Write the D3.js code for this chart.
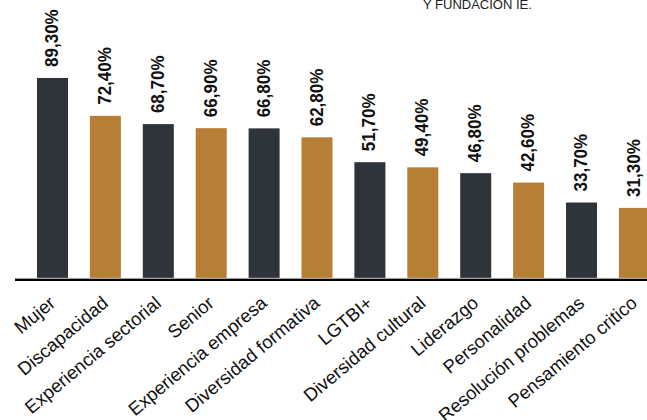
<!DOCTYPE html>
<html>
<head>
<meta charset="utf-8">
<script src="https://cdn.jsdelivr.net/npm/d3@7"></script>
<style>
  html, body { margin: 0; padding: 0; background: #fff; overflow: hidden; }
  svg { display: block; }
</style>
</head>
<body>
<svg id="chart" width="647" height="420"></svg>
<script>
const categories = ["Mujer", "Discapacidad", "Experiencia sectorial", "Senior", "Experiencia empresa", "Diversidad formativa", "LGTBI+", "Diversidad cultural", "Liderazgo", "Personalidad", "Resolución problemas", "Pensamiento critico"];
const values = [89.3, 72.4, 68.7, 66.9, 66.8, 62.8, 51.7, 49.4, 46.8, 42.6, 33.7, 31.3];
const valueLabels = ["89,30%", "72,40%", "68,70%", "66,90%", "66,80%", "62,80%", "51,70%", "49,40%", "46,80%", "42,60%", "33,70%", "31,30%"];
const sourceNote = "Y FUNDACION IE.";

const colors = ["#2f333a", "#b77f35"];
const data = categories.map((c, i) => ({ cat: c, value: values[i], label: valueLabels[i] }));

const svg = d3.select("#chart");
const x = d3.scaleBand().domain(categories).range([26.05, 660.85]).paddingInner(0.414).paddingOuter(0.207);
const y = d3.scaleLinear().domain([0, 100]).range([278, 54]);

// source note (cut at top, as in the reference)
svg.append("text")
  .attr("x", 423).attr("y", 8.5)
  .attr("font-family", "'Liberation Sans', Arial, sans-serif")
  .attr("font-size", 13)
  .attr("fill", "#222")
  .text(sourceNote);

// bars
svg.append("g").selectAll("rect").data(data).join("rect")
  .attr("x", d => x(d.cat))
  .attr("width", x.bandwidth())
  .attr("y", d => y(d.value))
  .attr("height", d => y(0) - y(d.value))
  .attr("fill", (d, i) => colors[i % 2]);

// value labels (condensed bold)
svg.append("g").selectAll("text").data(data).join("text")
  .attr("transform", d => `translate(${x(d.cat) + x.bandwidth() / 2 + 5.5},${y(d.value) - 11}) rotate(-90) scale(0.92,1)`)
  .attr("text-anchor", "start")
  .attr("font-family", "'Liberation Sans', Arial, sans-serif")
  .attr("font-weight", "bold")
  .attr("font-size", 18.5)
  .attr("fill", "#111")
  .text(d => d.label);

// baseline lines
svg.append("line").attr("x1", 15).attr("x2", 647).attr("y1", 278.3).attr("y2", 278.3)
  .attr("stroke", "#ccc").attr("stroke-width", 1);
svg.append("line").attr("x1", 15).attr("x2", 647).attr("y1", 279.9).attr("y2", 279.9)
  .attr("stroke", "#000").attr("stroke-width", 2.2);

// category labels
const xAxis = d3.axisBottom(x).tickSize(0).tickPadding(0);
const gx = svg.append("g").attr("transform", "translate(0,280)").call(xAxis);
gx.select(".domain").remove();
gx.attr("font-size", null).attr("font-family", null);
gx.selectAll("text")
  .style("font-family", "'Liberation Sans', Arial, sans-serif")
  .style("font-size", "18.5px")
  .attr("fill", "#111")
  .attr("text-anchor", "end")
  .attr("dy", 0)
  .attr("y", 0)
  .attr("transform", "translate(4,25) rotate(-40)");
</script>
</body>
</html>
